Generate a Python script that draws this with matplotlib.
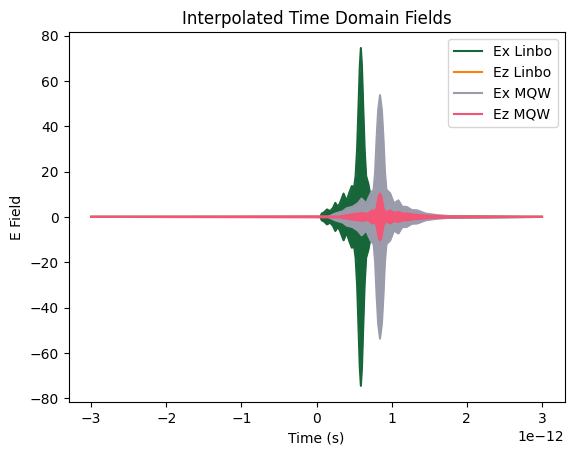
import matplotlib
matplotlib.use("Agg")
import matplotlib.pyplot as plt
import numpy as np

# Envelope samples (time in picoseconds, amplitude)
t_ex_linbo = [-3.0, 0.05, 0.07, 0.10, 0.14, 0.18, 0.22, 0.25, 0.28, 0.31, 0.36, 0.40, 0.44, 0.47,
              0.50, 0.52, 0.54, 0.56, 0.575, 0.59, 0.605, 0.62, 0.64, 0.66, 0.69, 0.72, 0.76,
              0.82, 0.9, 1.0, 3.0]
ex_linbo = [0.0, 0.0, 1.5, 2.0, 3.3, 2.5, 4.0, 6.2, 4.5, 5.9, 10.3, 7.0, 11.0, 13.6,
            13.0, 18.0, 30.0, 50.0, 66.0, 74.5, 66.0, 50.0, 30.0, 18.0, 14.5, 9.0, 6.0,
            3.5, 2.0, 0.5, 0.0]

t_ez_linbo = [-3.0, 0.2, 0.4, 0.59, 0.8, 1.0, 3.0]
ez_linbo = [0.0, 0.0, 0.3, 0.8, 0.3, 0.0, 0.0]

t_ex_mqw = [-3.0, 0.15, 0.25, 0.35, 0.40, 0.48, 0.55, 0.60, 0.66, 0.72, 0.76, 0.78, 0.80,
            0.82, 0.845, 0.87, 0.89, 0.91, 0.93, 0.98, 1.03, 1.09, 1.14, 1.2, 1.27, 1.34,
            1.45, 1.6, 1.8, 3.0]
ex_mqw = [0.0, 0.0, 1.5, 2.5, 3.8, 4.5, 6.0, 8.1, 6.0, 10.4, 12.0, 20.0, 35.0,
          47.0, 53.7, 47.0, 35.0, 20.0, 12.0, 10.4, 6.0, 7.3, 4.5, 4.4, 3.0, 2.9,
          1.5, 0.8, 0.3, 0.0]

t_ez_mqw = [-3.0, 0.3, 0.45, 0.55, 0.62, 0.68, 0.74, 0.785, 0.80, 0.815, 0.83, 0.845,
            0.86, 0.875, 0.89, 0.91, 0.94, 0.98, 1.03, 1.09, 1.15, 1.2, 1.3, 1.5, 1.8, 3.0]
ez_mqw = [0.0, 0.2, 1.0, 1.5, 1.7, 1.3, 2.9, 2.5, 4.0, 7.0, 9.5, 10.3,
          9.5, 7.0, 4.0, 2.5, 2.0, 2.9, 1.8, 2.2, 1.5, 1.5, 1.0, 0.5, 0.2, 0.0]

labels = ["Ex Linbo", "Ez Linbo", "Ex MQW", "Ez MQW"]
colors = ["#176639", "#ff7f0e", "#9a9cab", "#f25575"]

series = [(t_ex_linbo, ex_linbo), (t_ez_linbo, ez_linbo),
          (t_ex_mqw, ex_mqw), (t_ez_mqw, ez_mqw)]

fig, ax = plt.subplots(figsize=(6.4, 4.8), dpi=100)
for i, ((t, env), lab, c) in enumerate(zip(series, labels, colors)):
    t = np.asarray(t) * 1e-12
    env = np.asarray(env)
    z = 2 + i
    ax.fill_between(t, -env, env, color=c, lw=0, zorder=z)
    ax.plot(t, env, color=c, lw=1.5, label=lab, zorder=z)
    ax.plot(t, -env, color=c, lw=1.5, zorder=z)

ax.set_title("Interpolated Time Domain Fields")
ax.set_xlabel("Time (s)")
ax.set_ylabel("E Field")
ax.set_ylim(-81.5, 81.5)
ax.legend(loc="upper right")
fig.savefig("out.png", dpi=100, bbox_inches="tight")
